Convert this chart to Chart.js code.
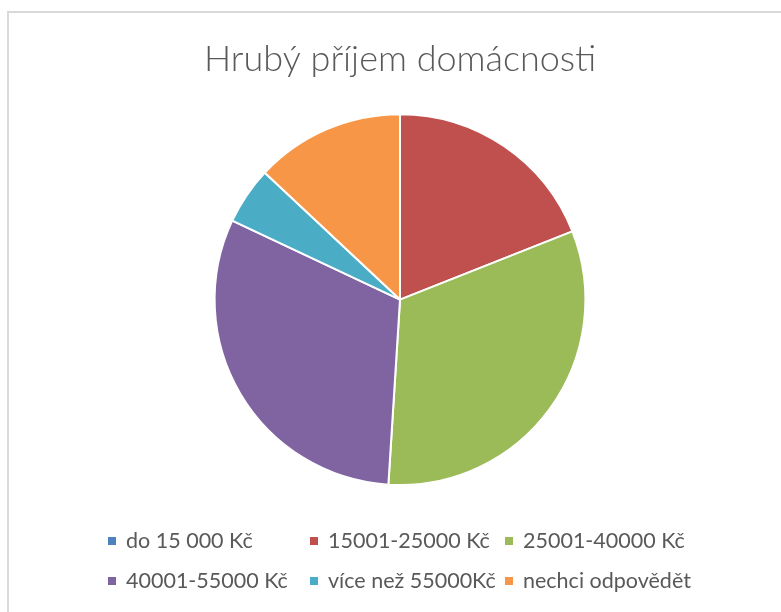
<!DOCTYPE html>
<html>
<head>
<meta charset="utf-8">
<script src="https://cdn.jsdelivr.net/npm/chart.js@4/dist/chart.umd.min.js"></script>
<style>
  html, body { margin: 0; padding: 0; background: #fff; }
  #wrap { position: relative; width: 781px; height: 612px; overflow: hidden; }
  #frame {
    position: absolute; left: 7px; top: 11px; width: 800px; height: 620px;
    border-left: 2px solid #d9d9d9; border-top: 2px solid #d9d9d9;
  }
  #chart { position: absolute; left: 0; top: 0; }
  #legend { position: absolute; left: 0; top: 0; font-family: Lato, "Open Sans", sans-serif; font-size: 21.5px; color: #595959; }
  .item { position: absolute; white-space: nowrap; line-height: 22px; }
  .box { display: inline-block; width: 8px; height: 8px; margin-right: 10px; vertical-align: 3px; }
</style>
</head>
<body>
<div id="wrap">
  <div id="frame"></div>
  <canvas id="chart" width="781" height="612"></canvas>
  <div id="legend"></div>
</div>
<script>
var title = 'Hrubý příjem domácnosti';
var categories = ['do 15 000 Kč', '15001-25000 Kč', '25001-40000 Kč', '40001-55000 Kč', 'více než 55000Kč', 'nechci odpovědět'];
var shares = [0, 19, 32, 31, 5, 13];
var colors = ['#4f81bd', '#c0504d', '#9bbb59', '#8064a2', '#4bacc6', '#f79646'];

// legend columns like the office layout: 3 per row
var legendCols = [108, 310, 505];
var legendRows = [529, 569];

var ctx = document.getElementById('chart').getContext('2d');
var chart = new Chart(ctx, {
  type: 'pie',
  data: {
    labels: categories,
    datasets: [{
      data: shares,
      backgroundColor: colors,
      borderColor: '#ffffff',
      borderWidth: 2
    }]
  },
  options: {
    responsive: false,
    animation: false,
    layout: { padding: { top: 36, bottom: 126, left: 19, right: 0 } },
    plugins: {
      legend: { display: false },
      tooltip: { enabled: false },
      title: {
        display: true,
        text: title,
        color: '#595959',
        font: { family: 'Lato', size: 36, weight: '300' },
        padding: { top: 2, bottom: 32 }
      }
    }
  }
});

var legend = document.getElementById('legend');
categories.forEach(function (label, i) {
  var el = document.createElement('div');
  el.className = 'item';
  el.style.left = legendCols[i % 3] + 'px';
  el.style.top = legendRows[Math.floor(i / 3)] + 'px';
  el.innerHTML = '<span class="box" style="background:' + colors[i] + '"></span>' + label;
  legend.appendChild(el);
});
</script>
</body>
</html>
